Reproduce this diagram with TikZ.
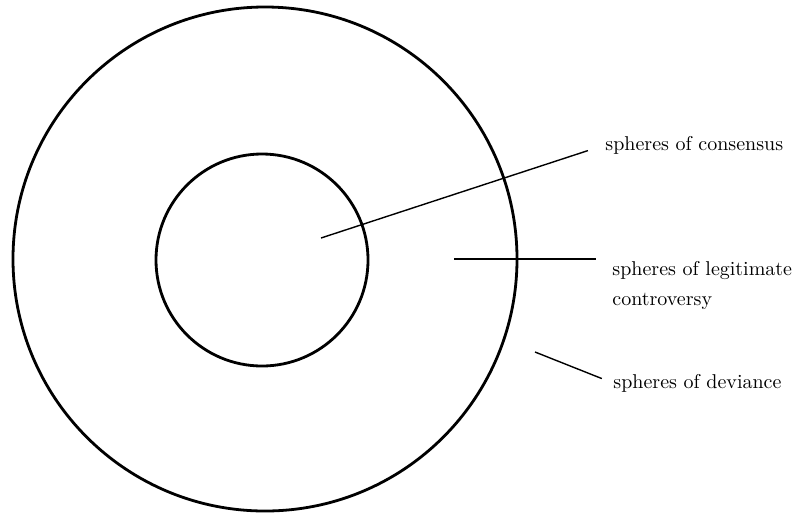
\documentclass[tikz,border=0pt]{standalone}
\usepackage{tikz}
\usetikzlibrary{positioning, calc}

\begin{document}
\begin{tikzpicture}[
        x=0.5pt, y=-0.5pt,
        sphere/.style={circle, draw, line width=1.4pt, inner sep=0pt},
        label/.style={anchor=west, inner sep=0pt, align=left,
                      font=\fontsize{10}{15}\selectfont},
        leader/.style={line width=0.7pt},
    ]
        \useasboundingbox (0,0) rectangle (795,515);

        \node[sphere, minimum size=252pt] (deviance) at (265,259) {};
        \node[sphere, minimum size=106pt] (consensus) at (262,260) {};

        \node[label] (cons) at (605,145) {spheres of consensus};
        \node[label] (legit) at (612,285) {spheres of legitimate\\controversy};
        \node[label] (dev) at (613,383) {spheres of deviance};

        \coordinate (p1) at (321,238);
        \coordinate (p2) at (454,259);
        \coordinate (p3) at (535,352);

        \draw[leader, shorten >=9pt] (p1) -- (cons.west);
        \draw[leader, shorten >=8pt] (p2) -- (p2 -| legit.west);
        \draw[leader, shorten >=6pt] (p3) -- (dev.west);

    \end{tikzpicture}
\end{document}
